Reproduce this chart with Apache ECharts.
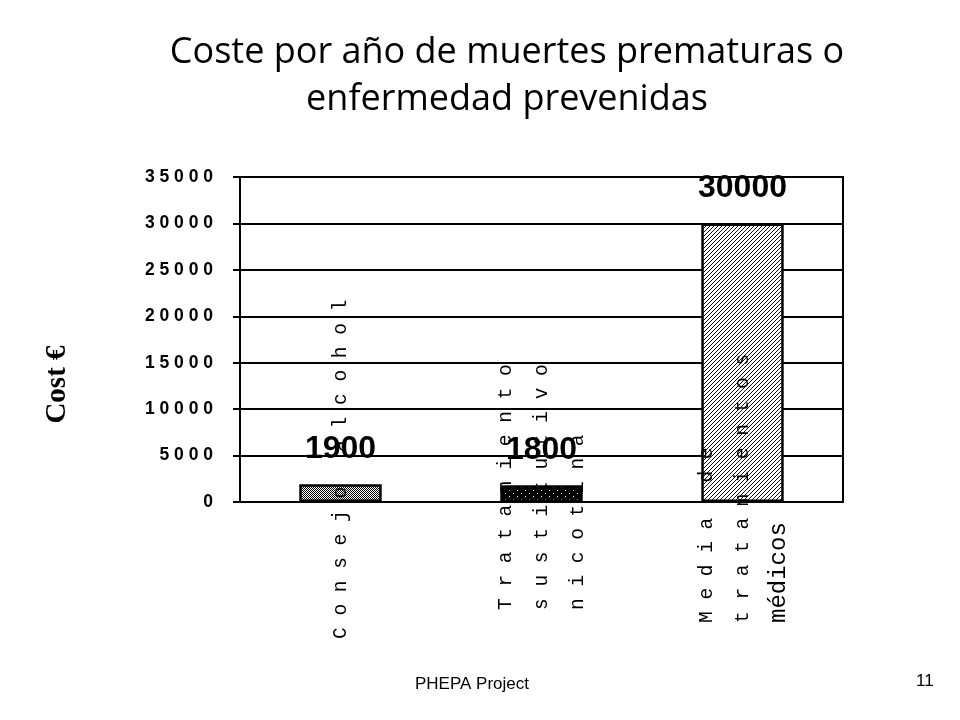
<!DOCTYPE html>
<html>
<head>
<meta charset="utf-8">
<script src="https://cdn.jsdelivr.net/npm/echarts@6/dist/echarts.min.js"></script>
<style>
  html, body { margin: 0; padding: 0; background: #fff; }
  #chart { width: 960px; height: 720px; }
</style>
</head>
<body>
<div id="chart"></div>
<script>
// datos
var categories = ['Consejo alcohol', 'Tratamiento\nsustitutivo\nnicotina', 'Media de\ntratamientos\nmédicos'];
var costValues = [1900, 1800, 30000];
var yTicks = [0, 5000, 10000, 15000, 20000, 25000, 30000, 35000];
var tightLines = ['médicos'];

// patrones de relleno (como en el original)
function makePattern(w, h, draw) {
    var c = document.createElement('canvas');
    c.width = w;
    c.height = h;
    var ctx = c.getContext('2d');
    draw(ctx);
    return { image: c, repeat: 'repeat' };
}
var patterns = [
    // gris tramado
    makePattern(2, 2, function (ctx) {
        ctx.fillStyle = '#fff';
        ctx.fillRect(0, 0, 2, 2);
        ctx.fillStyle = '#000';
        ctx.fillRect(0, 0, 1, 1);
        ctx.fillRect(1, 1, 1, 1);
    }),
    // negro con puntos
    makePattern(8, 6, function (ctx) {
        ctx.fillStyle = '#000';
        ctx.fillRect(0, 0, 8, 6);
        ctx.fillStyle = '#fff';
        ctx.fillRect(1, 1, 1, 1);
        ctx.fillRect(5, 4, 1, 1);
    }),
    // rayado diagonal
    makePattern(4, 4, function (ctx) {
        ctx.fillStyle = '#fff';
        ctx.fillRect(0, 0, 4, 4);
        ctx.fillStyle = '#111';
        for (var x = 0; x < 4; x++) {
            for (var y = 0; y < 4; y++) {
                if ((x + y) % 4 === 3) ctx.fillRect(x, y, 1, 1);
            }
        }
    })
];

function spaced(s) {
    return s.split('').join(' ');
}

var myChart = echarts.init(document.getElementById('chart'));

var option = {
    backgroundColor: '#fff',
    animation: false,
    title: {
        text: 'Coste por año de muertes prematuras o\nenfermedad prevenidas',
        left: 507,
        textAlign: 'center',
        top: 29,
        padding: 0,
        textStyle: {
            fontFamily: "'Comic Sans MS', 'Open Sans', sans-serif",
            fontWeight: 'normal',
            fontSize: 36,
            lineHeight: 47,
            color: '#000'
        }
    },
    grid: {
        left: 240,
        right: 117,
        top: 177,
        bottom: 218,
        show: true,
        borderColor: '#000',
        borderWidth: 2,
        outerBoundsMode: 'none'
    },
    xAxis: {
        type: 'category',
        data: categories,
        z: 5,
        axisLine: { lineStyle: { color: '#000', width: 2 } },
        axisTick: { show: false },
        axisLabel: {
            interval: 0,
            rotate: 90,
            align: 'left',
            margin: 137,
            lineHeight: 36,
            hideOverlap: false,
            formatter: function (value, index) {
                return value.split('\n').map(function (line) {
                    if (tightLines.indexOf(line) >= 0) {
                        return '{t' + index + '|' + line + '}';
                    }
                    return '{s' + index + '|' + spaced(line) + '}';
                }).join('\n');
            },
            rich: {
                s0: { fontFamily: 'Liberation Mono', fontSize: 19.5, color: '#000', padding: [0, 0, 0, 0] },
                s1: { fontFamily: 'Liberation Mono', fontSize: 19.5, color: '#000', padding: [0, 0, 0, 29] },
                s2: { fontFamily: 'Liberation Mono', fontSize: 19.5, color: '#000', padding: [0, 0, 0, 16] },
                t2: { fontFamily: 'Liberation Mono', fontSize: 24, color: '#000', padding: [0, 0, 0, 16] }
            }
        }
    },
    yAxis: {
        type: 'value',
        min: yTicks[0],
        max: yTicks[yTicks.length - 1],
        interval: yTicks[1] - yTicks[0],
        name: 'Cost €',
        nameLocation: 'middle',
        nameGap: 168,
        nameTextStyle: {
            fontFamily: 'Liberation Serif',
            fontWeight: 'bold',
            fontSize: 29,
            color: '#000',
            padding: [0, 90, 0, 0]
        },
        axisLine: { show: true, lineStyle: { color: '#000', width: 2 } },
        axisTick: { show: true, length: 7, lineStyle: { color: '#000', width: 2 } },
        splitLine: { show: true, lineStyle: { color: '#000', width: 2 } },
        axisLabel: {
            margin: 27,
            fontFamily: 'Liberation Sans',
            fontWeight: 'bold',
            fontSize: 17.5,
            color: '#000',
            formatter: function (v) {
                return spaced(String(v));
            }
        }
    },
    series: [{
        type: 'bar',
        barWidth: '41%',
        data: costValues.map(function (v, i) {
            return {
                value: v,
                itemStyle: {
                    color: patterns[i],
                    borderColor: '#000',
                    borderWidth: 2.5
                }
            };
        }),
        label: {
            show: true,
            position: 'top',
            distance: 19,
            fontFamily: 'Liberation Sans',
            fontWeight: 'bold',
            fontSize: 32,
            color: '#000'
        }
    }],
    graphic: [{
        type: 'text',
        left: 415,
        top: 676,
        style: {
            text: 'PHEPA Project',
            fontFamily: 'Liberation Sans',
            fontSize: 17,
            fill: '#000'
        }
    }, {
        type: 'text',
        left: 916,
        top: 673,
        style: {
            text: '11',
            fontFamily: 'Liberation Sans',
            fontSize: 17,
            fill: '#000'
        }
    }]
};

myChart.setOption(option);
</script>
</body>
</html>
